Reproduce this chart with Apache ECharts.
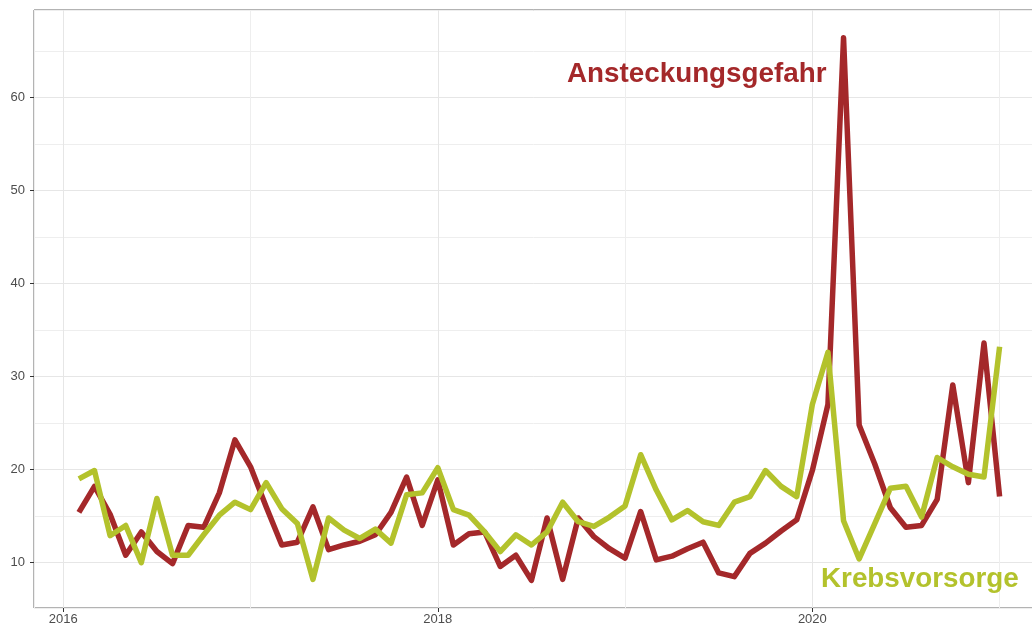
<!DOCTYPE html>
<html>
<head>
<meta charset="utf-8">
<title>Ansteckungsgefahr / Krebsvorsorge</title>
<script src="https://cdn.jsdelivr.net/npm/echarts@6/dist/echarts.min.js"></script>
<style>
  html, body { margin: 0; padding: 0; background: #fff; }
  #chart { width: 1032px; height: 628px; }
</style>
</head>
<body>
<div id="chart"></div>
<script>
// Monate Feb 2016 bis Jan 2021 (Monatswerte)
const startYear = 2016
const startMonth = 2
const monthCount = 60
const months = []
for (let i = 0; i < monthCount; i++) {
  const m = startMonth - 1 + i
  const y = startYear + Math.floor(m / 12)
  months.push(y + '-' + String((m % 12) + 1).padStart(2, '0'))
}

// Suchinteresse
const ansteckungsgefahr = [
  15.4, 18.2, 15.2, 10.8, 13.3, 11.2, 9.9, 14.0, 13.8, 17.5, 23.2,
  20.3, 16.0, 11.9, 12.2, 16.0, 11.4, 11.9, 12.3, 13.0, 15.4, 19.2, 14.0,
  18.9, 11.9, 13.1, 13.3, 9.6, 10.8, 8.1, 14.8, 8.2, 14.8, 12.8, 11.5,
  10.5, 15.5, 10.3, 10.7, 11.5, 12.2, 8.9, 8.5, 11.0, 12.1, 13.4, 14.6,
  19.9, 27.0, 66.4, 24.8, 20.6, 15.9, 13.8, 14.0, 16.8, 29.1, 18.6, 33.6,
  17.1
]
const krebsvorsorge = [
  19.0, 19.9, 12.9, 14.0, 10.0, 16.9, 10.8, 10.8, 13.0, 15.1, 16.5,
  15.7, 18.6, 15.8, 14.2, 8.2, 14.8, 13.5, 12.6, 13.6, 12.1, 17.3, 17.5,
  20.2, 15.7, 15.1, 13.3, 11.2, 13.0, 11.9, 13.3, 16.5, 14.4, 13.9, 14.9,
  16.1, 21.6, 17.8, 14.6, 15.6, 14.4, 14.0, 16.5, 17.1, 19.9, 18.2, 17.1,
  27.0, 32.6, 14.5, 10.4, 14.2, 18.0, 18.2, 14.9, 21.3, 20.3, 19.5, 19.2,
  33.2
]

// Achsenbeschriftungen
const xTickLabels = [2016, 2018, 2020]
const yTickLabels = [10, 20, 30, 40, 50, 60]

const RED = '#a4282a'
const GREEN = '#b3c22c'

// Achsenbereich (ggplot-Erweiterung), rechter Rand liegt ausserhalb des Bildes
const X_MIN = 2015.8436
const X_MAX = 2021.1837
const Y_MIN = 5.13
const Y_MAX = 69.38

// Monat -> Dezimaljahr
function toYear(s) {
  const [y, m] = s.split('-').map(Number)
  return y + (m - 1) / 12
}

const redData = months.map((m, i) => [toYear(m), ansteckungsgefahr[i]])
const greenData = months.map((m, i) => [toYear(m), krebsvorsorge[i]])

const chart = echarts.init(document.getElementById('chart'))

const labelStyle = {
  color: '#4d4d4d',
  fontSize: 13,
  fontFamily: '"Liberation Sans", Arial, Helvetica, sans-serif'
}

const option = {
  animation: false,
  backgroundColor: '#fff',
  grid: {
    left: 34,
    width: 1000,
    top: 10,
    bottom: 20,
    outerBoundsMode: 'none',
    show: true,
    borderColor: '#666',
    borderWidth: 1,
    backgroundColor: 'transparent'
  },
  xAxis: [
    {
      // Hilfslinien jedes Jahr
      type: 'value',
      min: X_MIN,
      max: X_MAX,
      splitNumber: 5,
      axisLine: { show: false },
      axisTick: { show: false },
      axisLabel: { show: false },
      splitLine: { show: true, lineStyle: { color: '#eeeeee', width: 1 } }
    },
    {
      // Beschriftung 2016 / 2018 / 2020
      type: 'value',
      position: 'bottom',
      min: X_MIN,
      max: X_MAX,
      splitNumber: 3,
      axisLine: { show: false },
      axisTick: {
        show: true,
        length: 4,
        lineStyle: { color: '#333' },
        customValues: xTickLabels
      },
      axisLabel: Object.assign({
        margin: 5,
        customValues: xTickLabels,
        formatter: v => String(v)
      }, labelStyle),
      splitLine: { show: true, lineStyle: { color: '#e6e6e6', width: 1 } }
    }
  ],
  yAxis: [
    {
      type: 'value',
      min: Y_MIN,
      max: Y_MAX,
      splitNumber: 12,
      axisLine: { show: false },
      axisTick: { show: false },
      axisLabel: { show: false },
      splitLine: { show: true, lineStyle: { color: '#eeeeee', width: 1 } }
    },
    {
      type: 'value',
      position: 'left',
      min: Y_MIN,
      max: Y_MAX,
      splitNumber: 6,
      axisLine: { show: false },
      axisTick: {
        show: true,
        length: 4,
        lineStyle: { color: '#333' },
        customValues: yTickLabels
      },
      axisLabel: Object.assign({
        margin: 9,
        customValues: yTickLabels
      }, labelStyle),
      splitLine: { show: true, lineStyle: { color: '#e6e6e6', width: 1 } }
    }
  ],
  series: [
    {
      name: 'Ansteckungsgefahr',
      type: 'line',
      xAxisIndex: 0,
      yAxisIndex: 0,
      data: redData,
      showSymbol: false,
      lineStyle: { color: RED, width: 5.5, cap: 'butt', join: 'round' }
    },
    {
      name: 'Krebsvorsorge',
      type: 'line',
      xAxisIndex: 0,
      yAxisIndex: 0,
      data: greenData,
      showSymbol: false,
      lineStyle: { color: GREEN, width: 5.5, cap: 'butt', join: 'round' }
    }
  ],
  graphic: [
    {
      type: 'text',
      x: 567,
      y: 74,
      z: 100,
      style: {
        text: 'Ansteckungsgefahr',
        fill: RED,
        font: 'bold 27.8px "Liberation Sans", Arial, Helvetica, sans-serif',
        textAlign: 'left',
        textVerticalAlign: 'middle'
      }
    },
    {
      type: 'text',
      x: 821,
      y: 579,
      z: 100,
      style: {
        text: 'Krebsvorsorge',
        fill: GREEN,
        font: 'bold 27.8px "Liberation Sans", Arial, Helvetica, sans-serif',
        textAlign: 'left',
        textVerticalAlign: 'middle'
      }
    }
  ]
}

chart.setOption(option)
</script>
</body>
</html>
